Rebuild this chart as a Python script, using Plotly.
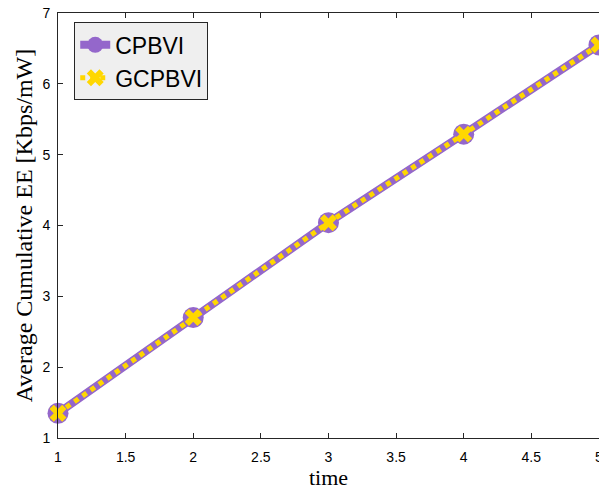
import plotly.graph_objects as go

time = [1, 2, 3, 4, 5]
cpbvi = [1.35, 2.70, 4.04, 5.29, 6.55]
gcpbvi = [1.35, 2.70, 4.04, 5.29, 6.55]
x_ticks = [1, 1.5, 2, 2.5, 3, 3.5, 4, 4.5, 5]
x_tick_labels = ["1", "1.5", "2", "2.5", "3", "3.5", "4", "4.5", "5"]
y_ticks = [1, 2, 3, 4, 5, 6, 7]

PURPLE = "#9467CB"
GOLD = "#FFD700"

fig = go.Figure()
fig.add_trace(go.Scatter(
    x=time, y=cpbvi, name="CPBVI", mode="lines+markers",
    line=dict(color=PURPLE, width=8),
    marker=dict(symbol="circle", size=21, color=PURPLE),
    cliponaxis=False,
))
fig.add_trace(go.Scatter(
    x=time, y=gcpbvi, name="GCPBVI", mode="lines+markers",
    line=dict(color=GOLD, width=5, dash="dot"),
    marker=dict(symbol="x", size=15, color=GOLD, line=dict(width=0)),
    cliponaxis=False,
))

axis_common = dict(
    showline=True, linecolor="#262626", linewidth=1,
    ticks="inside", ticklen=5, tickcolor="#262626",
    showgrid=False, zeroline=False, automargin=False,
    tickfont=dict(family="Liberation Sans, Arial", size=14, color="black"),
)

fig.update_layout(
    width=599, height=491,
    margin=dict(l=58, r=0, t=13, b=53),
    paper_bgcolor="white", plot_bgcolor="white",
    showlegend=True,
    legend=dict(
        x=0.03, y=0.978, xanchor="left", yanchor="top",
        bgcolor="#efefef", bordercolor="#262626", borderwidth=1,
        font=dict(family="Liberation Sans, Arial", size=23, color="black"),
        tracegroupgap=0, itemwidth=30,
    ),
    xaxis=dict(
        range=[1, 5.0005], tickvals=x_ticks, ticktext=x_tick_labels,
        mirror="ticks", ticklabelstandoff=6, ticklabeloverflow="allow",
        title=dict(text="time", font=dict(family="Liberation Serif, serif", size=22, color="black"), standoff=4),
        **axis_common,
    ),
    yaxis=dict(
        range=[1, 7], tickvals=y_ticks,
        mirror=False, ticklabelstandoff=4,
        title=dict(text="Average Cumulative EE [Kbps/mW]", font=dict(family="Liberation Serif, serif", size=24, color="black"), standoff=3),
        **axis_common,
    ),
)

fig.write_html("out.html")
